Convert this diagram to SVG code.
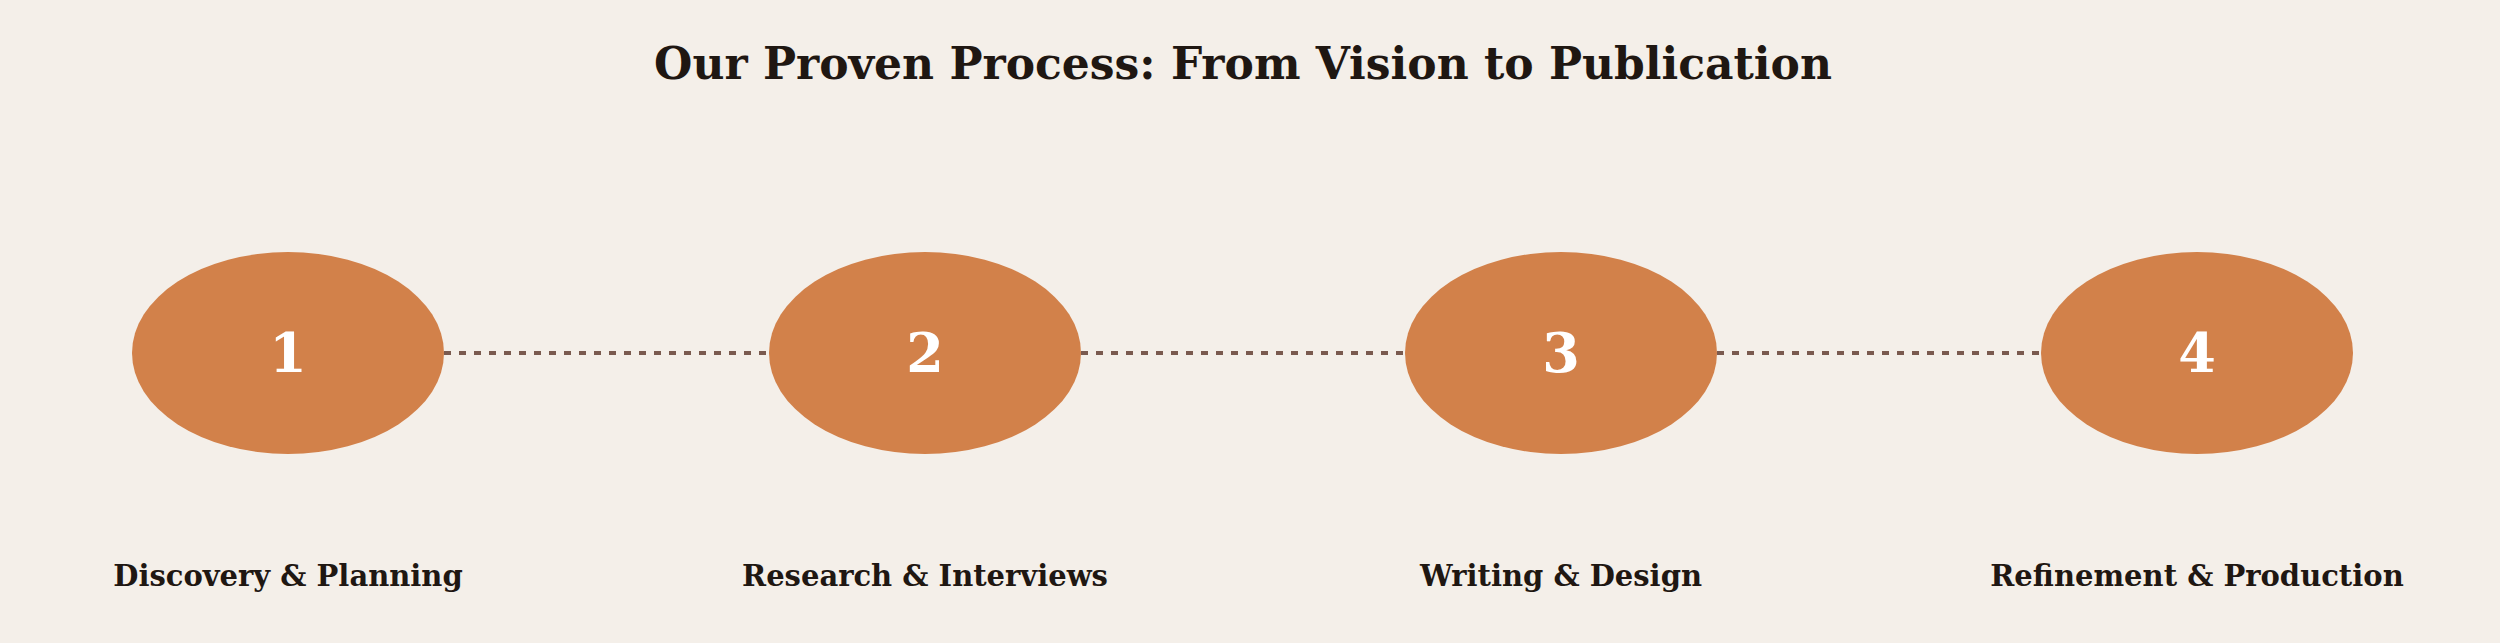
<svg xmlns="http://www.w3.org/2000/svg" width="2500" height="643" viewBox="0 0 2500 643">
<style>
.n{fill:#d2814a}
.num{font-family:"DejaVu Serif",serif;font-weight:bold;font-size:54px;fill:#ffffff;text-anchor:middle}
.lbl{font-family:"DejaVu Serif",serif;font-weight:bold;font-size:29px;fill:#1f1712;text-anchor:middle}
.c{stroke:#7a5a4f;stroke-width:4;stroke-dasharray:7 8;fill:none}
</style>
<rect width="2500" height="643" fill="#f4efe9"/>
<text x="1243" y="79" style="font-family:'DejaVu Serif',serif;font-weight:bold;font-size:44px;fill:#1f1712;text-anchor:middle">Our Proven Process: From Vision to Publication</text>
<g id="connectors">
<line class="c" x1="444" y1="353" x2="769" y2="353"/>
<line class="c" x1="1081" y1="353" x2="1405" y2="353"/>
<line class="c" x1="1717" y1="353" x2="2041" y2="353"/>
</g>
<g id="node1"><ellipse class="n" cx="288" cy="353" rx="156" ry="101"/><text class="num" x="288" y="372">1</text><text class="lbl" x="288" y="586">Discovery &amp; Planning</text></g>
<g id="node2"><ellipse class="n" cx="925" cy="353" rx="156" ry="101"/><text class="num" x="925" y="372">2</text><text class="lbl" x="925" y="586">Research &amp; Interviews</text></g>
<g id="node3"><ellipse class="n" cx="1561" cy="353" rx="156" ry="101"/><text class="num" x="1561" y="372">3</text><text class="lbl" x="1561" y="586">Writing &amp; Design</text></g>
<g id="node4"><ellipse class="n" cx="2197" cy="353" rx="156" ry="101"/><text class="num" x="2197" y="372">4</text><text class="lbl" x="2197" y="586">Refinement &amp; Production</text></g>
</svg>
